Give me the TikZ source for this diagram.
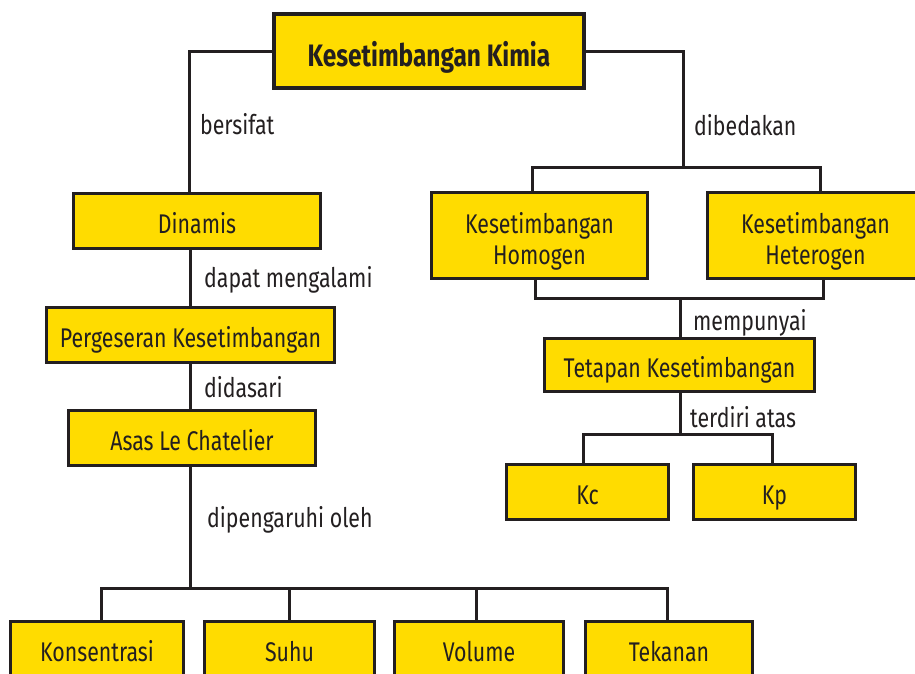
\documentclass[tikz,border=0pt]{standalone}
\usepackage{fontspec}
\setmainfont{Fira Sans}[FakeStretch=0.79]
\newfontfamily\titlefont{Fira Sans}[FakeStretch=0.79]
\definecolor{gold}{HTML}{FFDC00}
\definecolor{ink}{HTML}{231F20}
\begin{document}
\begin{tikzpicture}[x=1pt,y=-1pt,
  box/.style={draw=ink, line width=3.2pt, fill=gold, inner sep=0pt, align=center,
    text=ink, font=\fontsize{27}{31}\selectfont, text height=24pt, text depth=0pt},
  twoline/.style={text height=57pt, text depth=0pt},
  lbl/.style={anchor=base west, inner sep=0pt, text=ink, font=\fontsize{27}{31}\selectfont},
  conn/.style={draw=ink, line width=3pt}]
\useasboundingbox (0,0) rectangle (915,673);
\begin{scope}
\clip (0,0) rectangle (915,673);
% junction points
\coordinate (jR) at (683,167);
\coordinate (jM) at (680,298);
\coordinate (jT) at (680,434);
\coordinate (jB) at (190,588);

% concept boxes
\node[box, minimum width=310, minimum height=74, text height=30pt, text depth=0pt,
  font=\fontsize{31}{34}\titlefont\bfseries] (kimia) at (429,51) {Kesetimbangan Kimia};
\node[box, minimum width=247, minimum height=55] (dinamis) at (197,221) {Dinamis};
\node[box, minimum width=288, minimum height=55] (geser) at (190.5,335) {Pergeseran Kesetimbangan};
\node[box, minimum width=247, minimum height=55] (asas) at (192,438) {Asas Le Chatelier};
\node[box, twoline, minimum width=216, minimum height=86] (homogen) at (539.5,235.5) {Kesetimbangan\\Homogen};
\node[box, twoline, minimum width=216, minimum height=86] (heterogen) at (815.5,235.5) {Kesetimbangan\\Heterogen};
\node[box, minimum width=270, minimum height=53] (tetapan) at (679.5,365) {Tetapan Kesetimbangan};
\node[box, minimum width=162, minimum height=55] (kc) at (587.5,492) {Kc};
\node[box, minimum width=162, minimum height=55] (kp) at (774.5,492) {Kp};
\node[box, minimum width=173, minimum height=55] (kons) at (97,649) {Konsentrasi};
\node[box, minimum width=170, minimum height=55] (suhu) at (289.5,649) {Suhu};
\node[box, minimum width=169, minimum height=55] (volume) at (479,649) {Volume};
\node[box, minimum width=167, minimum height=55] (tekanan) at (669,649) {Tekanan};

% connectors
\draw[conn] (kimia.west) -| ([xshift=-8pt]dinamis.north);
\draw[conn] (kimia.east) -| (jR);
\draw[conn] ([xshift=-7.5pt]homogen.north) |- (jR) -| ([xshift=4.5pt]heterogen.north);
\draw[conn] (geser.north |- dinamis.south) -- (geser.north);
\draw[conn] (geser.south) -- (geser.south |- asas.north);
\draw[conn] (asas.south -| jB) -- (jB);
\draw[conn] ([xshift=4pt]kons.north) |- (jB) -| ([xshift=-2pt]tekanan.north);
\draw[conn] (suhu.north) -- (suhu.north |- jB);
\draw[conn] ([xshift=-3pt]volume.north) -- ([xshift=-3pt]volume.north |- jB);
\draw[conn] ([xshift=-4.5pt]homogen.south) |- (jM) -| ([xshift=7.5pt]heterogen.south);
\draw[conn] (jM) -- (jM |- tetapan.north);
\draw[conn] (tetapan.south -| jT) -- (jT);
\draw[conn] ([xshift=-4.5pt]kc.north) |- (jT) -| ([xshift=-2.5pt]kp.north);
\end{scope}

% connector labels
\node[lbl] (l1) at (200,134) {bersifat};
\node[lbl] (l2) at (694,135) {dibedakan};
\node[lbl] (l3) at (204,287) {dapat mengalami};
\node[lbl] (l4) at (204,397) {didasari};
\node[lbl] (l5) at (207,527) {dipengaruhi oleh};
\node[lbl] (l6) at (693,330) {mempunyai};
\node[lbl] (l7) at (690,427) {terdiri atas};
\end{tikzpicture}
\end{document}
